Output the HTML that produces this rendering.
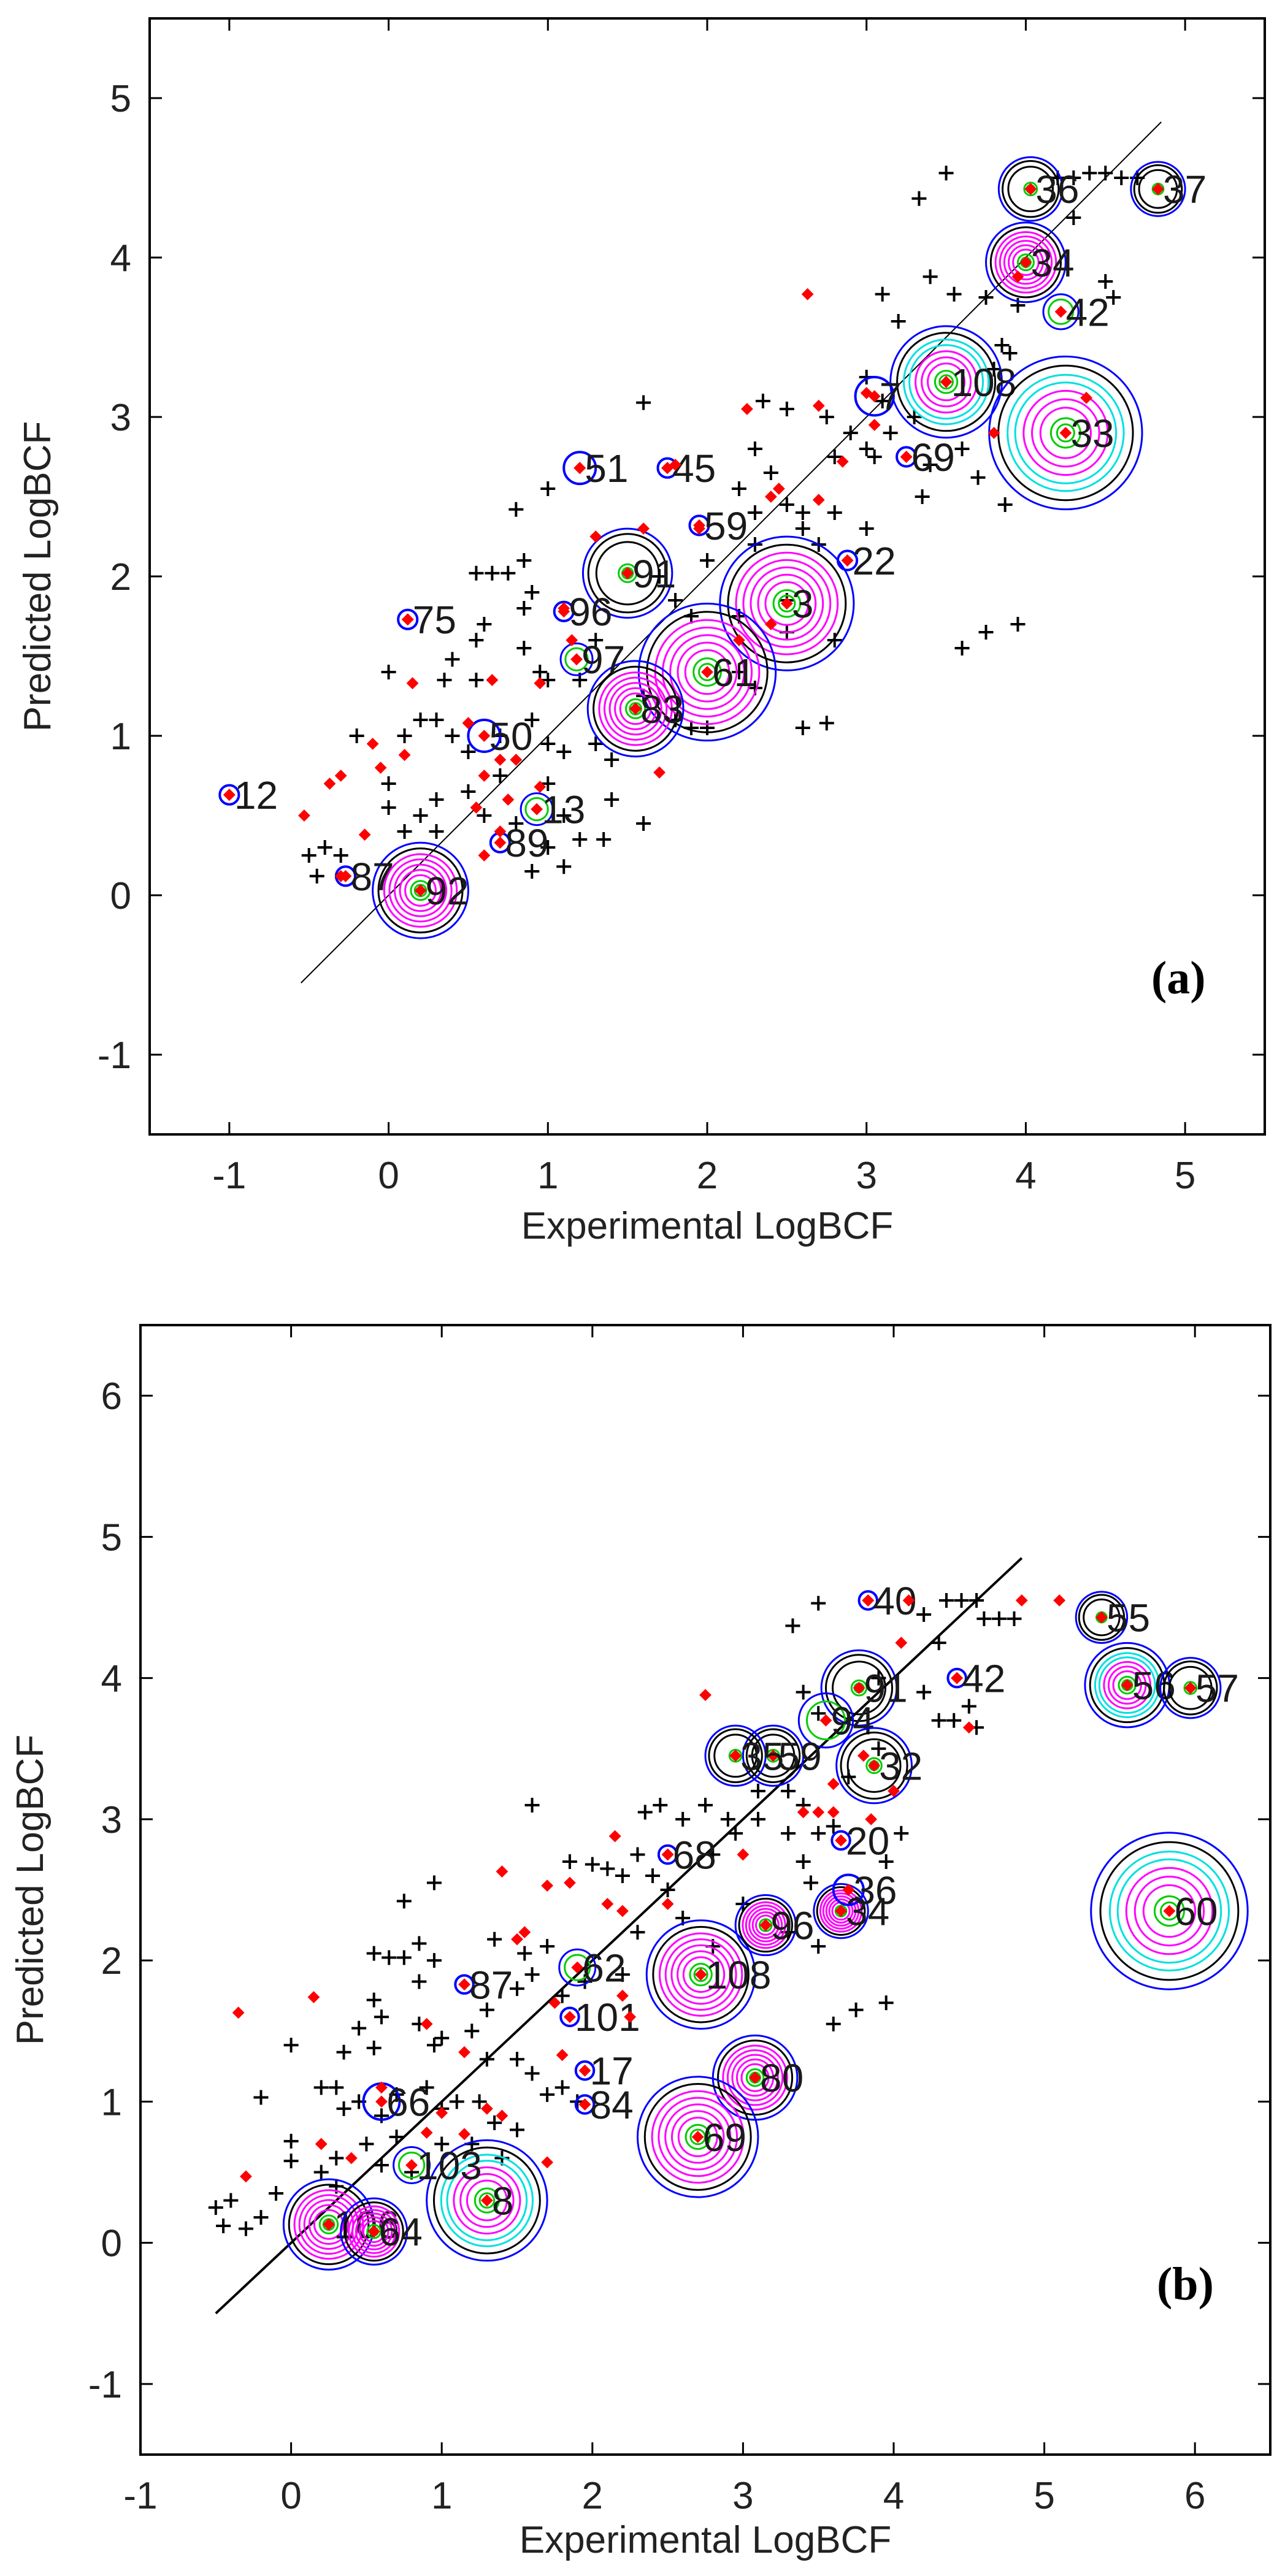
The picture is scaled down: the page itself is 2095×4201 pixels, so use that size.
<!DOCTYPE html>
<html><head><meta charset="utf-8"><style>
html,body{margin:0;padding:0;background:#fff;}
svg{display:block;}
text{font-family:"Liberation Sans",Arial,sans-serif;}
</style></head><body>
<svg id="fig" width="2095" height="4201" viewBox="0 0 2095 4201" xmlns="http://www.w3.org/2000/svg">
<rect x="0" y="0" width="2095" height="4201" fill="#fff"/>
<g id="pa"></g>
<g id="pb"></g>
</svg>
<script>
// ---------- Panel A data ----------
const aXTicks=[-1,0,1,2,3,4,5];
const aYTicks=[-1,0,1,2,3,4,5];
const aCross=[[3.5,4.53],[3.33,4.37],[4.2,4.5],[4.3,4.5],[4.4,4.53],[4.5,4.53],[4.6,4.5],[4.7,4.5],[4.3,4.25],[3.1,3.77],[3.4,3.88],[3.55,3.77],[3.2,3.6],[3.75,3.75],[3.95,3.7],[4.5,3.85],[4.55,3.75],[3.85,3.45],[1.6,3.09],[2.35,3.1],[2.5,3.05],[2.75,3.0],[2.9,2.9],[3.0,2.8],[3.05,2.75],[3.15,2.9],[3.3,3.0],[3.35,2.5],[3.0,3.25],[2.3,2.8],[2.4,2.65],[2.5,2.45],[2.6,2.3],[2.7,2.2],[2.8,2.4],[2.2,2.55],[2.3,2.2],[3.0,2.3],[3.7,2.62],[3.87,2.45],[1.0,2.55],[0.8,2.42],[0.55,2.02],[0.65,2.02],[0.75,2.02],[0.85,2.1],[0.9,1.9],[0.85,1.8],[0.6,1.7],[0.55,1.6],[0.4,1.48],[0.0,1.4],[0.35,1.35],[0.55,1.35],[0.85,1.55],[0.95,1.4],[1.0,1.35],[1.2,1.35],[-0.2,1.0],[0.1,1.0],[0.2,1.1],[0.3,1.1],[0.4,1.0],[0.5,0.9],[0.7,1.0],[0.9,1.1],[1.0,0.95],[1.1,0.9],[1.3,0.95],[1.4,0.85],[1.0,0.7],[0.7,0.75],[0.5,0.65],[0.3,0.6],[0.2,0.5],[0.0,0.55],[0.0,0.7],[0.1,0.4],[0.3,0.4],[0.6,0.5],[0.8,0.45],[1.1,0.5],[1.2,0.35],[1.35,0.35],[1.4,0.6],[1.6,0.45],[0.9,0.15],[1.1,0.18],[1.0,0.3],[-0.5,0.25],[-0.45,0.12],[-0.4,0.3],[-0.3,0.25],[2.2,1.4],[2.3,1.3],[2.5,1.65],[2.5,1.85],[2.8,1.6],[2.6,1.05],[2.75,1.08],[3.6,1.55],[3.75,1.65],[3.95,1.7],[1.8,1.1],[1.9,1.05],[2.0,1.05],[1.6,1.25],[1.8,1.85],[1.9,1.75],[2.2,1.75],[2.3,2.4],[2.6,2.4],[1.7,2.0],[2.0,2.1],[1.3,1.6],[3.4,2.7],[3.6,2.8],[3.8,3.3],[3.9,3.4],[3.1,3.1],[2.8,2.75]];
const aRed=[[2.63,3.77],[2.25,3.05],[2.7,3.07],[3.0,3.15],[3.05,2.95],[3.25,2.75],[2.85,2.72],[2.4,2.5],[2.45,2.55],[2.7,2.48],[1.6,2.3],[1.3,2.25],[1.8,2.7],[1.1,1.8],[1.15,1.6],[0.15,1.33],[0.65,1.35],[0.95,1.33],[-0.1,0.95],[0.1,0.88],[-0.05,0.8],[-0.3,0.75],[-0.37,0.7],[-0.53,0.5],[-0.15,0.38],[0.5,1.08],[0.6,0.75],[0.7,0.85],[0.8,0.85],[0.75,0.6],[0.55,0.55],[0.95,0.68],[0.6,0.25],[0.7,0.4],[1.7,0.77],[2.4,1.7],[2.2,1.6],[3.8,2.9],[4.38,3.12],[3.95,3.88],[-0.3,0.12],[1.2,2.68],[1.75,2.68],[1.95,2.3],[2.88,2.1],[0.12,1.73],[-1.0,0.63]];
const aClX=[4.03,4.83,4.0,4.22,3.5,4.25,2.5,2.0,1.55,1.5,0.2,0.93,1.2,1.75,1.95,2.88,3.25,0.12,-1.0,-0.27,0.6,0.7,3.05,1.18,1.1];
const aClY=[4.43,4.43,3.97,3.66,3.22,2.9,1.83,1.4,1.17,2.02,0.03,0.54,2.68,2.68,2.32,2.1,2.75,1.73,0.63,0.12,1.0,0.33,3.13,1.48,1.78];
const aClR=[0.2,0.17,0.25,0.11,0.35,0.48,0.42,0.43,0.3,0.28,0.3,0.1,0.1,0.06,0.06,0.06,0.06,0.06,0.06,0.06,0.1,0.06,0.12,0.1,0.06];
const aClK=['p','p','m','g','c','c','m','m','m','p','m','g','b','b','b','b','b','b','b','b','b','b','b','g','b'];
const aClL=['36','37','34','42','108','33','3','61','83','91','92','13','51','45','59','22','69','75','12','87','50','89','7','97','96'];

// ---------- Panel B data ----------
const bXTicks=[-1,0,1,2,3,4,5,6];
const bYTicks=[-1,0,1,2,3,4,5,6];
const bCross=[[3.5,4.53],[3.33,4.37],[4.2,4.45],[4.35,4.55],[4.45,4.55],[4.55,4.55],[4.6,4.42],[4.7,4.42],[4.8,4.42],[4.3,4.25],[3.4,3.9],[3.5,3.75],[3.9,4.0],[4.2,3.9],[4.3,3.7],[4.4,3.7],[4.5,3.8],[4.55,3.65],[3.3,3.2],[3.4,3.1],[3.5,2.9],[3.6,2.95],[1.6,3.1],[2.35,3.05],[2.45,3.1],[2.6,3.0],[2.75,3.1],[2.9,3.0],[3.1,3.2],[3.3,2.9],[3.4,2.7],[3.45,2.55],[3.95,2.7],[4.05,2.9],[1.85,2.7],[2.0,2.68],[2.1,2.65],[2.2,2.6],[2.3,2.75],[2.4,2.6],[2.5,2.5],[0.95,2.55],[0.75,2.42],[0.85,2.12],[0.95,2.0],[0.55,2.05],[0.65,2.02],[0.75,2.02],[0.85,1.85],[0.55,1.72],[0.6,1.6],[0.45,1.52],[0.0,1.4],[0.35,1.35],[0.55,1.38],[0.85,1.55],[0.95,1.4],[1.0,1.45],[1.2,1.5],[1.3,1.3],[1.5,1.3],[1.6,1.2],[1.7,1.05],[1.5,1.8],[1.6,1.9],[1.7,2.1],[1.8,1.75],[1.95,1.85],[1.35,2.15],[1.55,2.05],[1.3,1.65],[-0.2,1.03],[0.2,1.1],[0.3,1.1],[0.35,0.95],[0.45,1.0],[0.6,0.9],[0.7,1.05],[0.9,1.1],[1.0,0.95],[1.1,1.0],[1.25,1.0],[1.35,0.85],[1.5,0.8],[1.0,0.7],[0.7,0.75],[0.5,0.7],[0.3,0.6],[0.2,0.5],[0.0,0.58],[0.0,0.72],[-0.1,0.35],[0.3,0.4],[0.6,0.55],[0.8,0.5],[1.2,0.7],[1.4,0.6],[-0.5,0.25],[-0.45,0.12],[-0.4,0.3],[-0.3,0.1],[-0.2,0.18],[2.6,2.3],[2.8,2.1],[3.0,2.4],[3.3,2.2],[3.5,2.1],[3.6,1.55],[3.75,1.65],[3.95,1.7],[1.8,1.1],[1.9,1.0],[2.2,1.9],[2.3,2.2],[3.9,3.5],[3.7,3.3],[3.1,3.0],[2.8,2.75],[2.95,2.9]];
const bRed=[[-0.35,1.63],[-0.3,0.47],[0.15,1.74],[0.2,0.7],[0.4,0.6],[0.6,1.1],[0.9,0.78],[0.9,1.55],[1.0,0.92],[1.15,0.77],[1.15,1.35],[1.3,0.95],[1.4,0.9],[1.4,2.63],[1.55,2.2],[1.5,2.15],[1.7,2.53],[1.85,2.55],[1.75,1.7],[1.8,1.33],[1.7,0.57],[2.15,2.88],[2.1,2.4],[2.25,1.6],[2.2,1.75],[2.75,3.88],[2.5,2.75],[3.0,2.75],[3.4,3.05],[3.5,3.05],[3.6,3.05],[3.85,3.0],[4.0,3.2],[4.05,4.25],[4.1,4.55],[4.85,4.55],[5.1,4.55],[4.5,3.65],[3.8,3.45],[3.6,3.25],[3.83,4.55],[4.42,4.0],[2.5,2.4],[2.2,2.35]];
const bClX=[5.38,5.55,5.97,5.83,3.77,3.55,3.87,3.2,2.95,2.72,3.15,3.65,3.08,2.7,1.3,0.25,0.55,0.6,1.9,1.85,1.15,1.95,1.95,4.42,3.83,3.65,2.5,0.8,3.7];
const bClY=[4.43,3.95,3.93,2.35,3.93,3.7,3.38,3.45,3.45,1.9,2.25,2.35,1.17,0.75,0.3,0.13,0.08,1.0,1.95,1.6,1.83,1.22,0.98,4.0,4.55,2.85,2.75,0.55,2.5];
const bClR=[0.17,0.28,0.2,0.52,0.25,0.18,0.25,0.2,0.2,0.36,0.2,0.18,0.28,0.4,0.4,0.3,0.22,0.12,0.12,0.06,0.06,0.06,0.06,0.06,0.06,0.06,0.06,0.12,0.1];
const bClK=['p','c','p','c','p','g','p','p','p','m','m','m','m','m','c','m','m','b','g','b','b','b','b','b','b','b','b','g','b'];
const bClL=['55','56','57','60','91','94','32','59','35','108','96','34','80','69','8','106','64','66','62','101','87','17','84','42','40','20','68','103','36'];

function mk(parent,tag,attrs,name,inter){
  const e=document.createElementNS('http://www.w3.org/2000/svg',tag);
  for(const k in attrs)e.setAttribute(k,attrs[k]);
  
  
  parent.appendChild(e);return e;
}

function panel(g,cfg){
  const sx=v=>cfg.L+(v-cfg.xmin)/(cfg.xmax-cfg.xmin)*(cfg.R-cfg.L);
  const sy=v=>cfg.B-(v-cfg.ymin)/(cfg.ymax-cfg.ymin)*(cfg.B-cfg.T);
  const ppu=(cfg.R-cfg.L)/(cfg.xmax-cfg.xmin);
  mk(g,'line',{x1:sx(cfg.d0),y1:sy(cfg.d0),x2:sx(cfg.d1),y2:sy(cfg.d1),stroke:'#000','stroke-width':cfg.dw},'identity-line',false);
  cfg.cross.forEach(p=>{
    const x=sx(p[0]),y=sy(p[1]);
    mk(g,'path',{d:`M${x-12} ${y}H${x+12}M${x} ${y-12}V${y+12}`,stroke:'#000','stroke-width':4,fill:'none'},'training-point',false);
  });
  const n=cfg.cx.length;
  for(let i=0;i<n;i++){
    const x=sx(cfg.cx[i]),y=sy(cfg.cy[i]),r=cfg.cr[i]*ppu,k=cfg.ck[i];
    const cg=mk(g,'g',{},'outlier-cluster-'+cfg.cl[i],false);
    const ring=(rr,c,w)=>{ if(rr>2) mk(cg,'circle',{cx:x,cy:y,r:rr,fill:'none',stroke:c,'stroke-width':w||3},'contour-ring',false);};
    if(k==='b'){ring(Math.max(r,14),'#0000ff',4);}
    else if(k==='g'){ring(r,'#0000ff',3);ring(r*0.7,'#00cc00',3);}
    else{
      ring(r,'#0000ff',3);ring(r*0.88,'#000',3);
      let inner=0.76;
      if(k==='c'){ring(r*0.76,'#00e0e0',3);ring(r*0.66,'#00e0e0',3);inner=0.55;}
      if(k==='m'||k==='c'){for(let f=inner;f>0.25;f-=0.11)ring(r*f,'#ff00ff',3);}
      else{ring(r*0.7,'#000',3);}
      ring(Math.min(r*0.2,24),'#00cc00',3);ring(Math.min(r*0.12,14),'#00cc00',3);
    }
    mk(cg,'rect',{x:x-7,y:y-7,width:14,height:14,fill:'#ff0000',transform:`rotate(45 ${x} ${y})`},'cluster-center',false);
    const t=mk(cg,'text',{x:x+8,y:y+23,'font-size':64,fill:'#1a1a1a'},'point-label',false);
    t.textContent=cfg.cl[i];
  }
  cfg.red.forEach(p=>{
    const x=sx(p[0]),y=sy(p[1]);
    mk(g,'rect',{x:x-7,y:y-7,width:14,height:14,fill:'#ff0000',transform:`rotate(45 ${x} ${y})`},'test-point',false);
  });
  mk(g,'rect',{x:cfg.L,y:cfg.T,width:cfg.R-cfg.L,height:cfg.B-cfg.T,fill:'none',stroke:'#000','stroke-width':4},'plot-frame',false);
  cfg.xt.forEach(v=>{
    const x=sx(v);
    mk(g,'path',{d:`M${x} ${cfg.B}V${cfg.B-20}M${x} ${cfg.T}V${cfg.T+20}`,stroke:'#000','stroke-width':3},'x-tick',false);
    const t=mk(g,'text',{x:x,y:cfg.B+88,'font-size':62,'text-anchor':'middle',fill:'#222'},'x-tick-label',false);
    t.textContent=String(v);
  });
  cfg.yt.forEach(v=>{
    const y=sy(v);
    mk(g,'path',{d:`M${cfg.L} ${y}H${cfg.L+20}M${cfg.R} ${y}H${cfg.R-20}`,stroke:'#000','stroke-width':3},'y-tick',false);
    const t=mk(g,'text',{x:cfg.L-30,y:y+22,'font-size':62,'text-anchor':'end',fill:'#222'},'y-tick-label',false);
    t.textContent=String(v);
  });
  const xt=mk(g,'text',{x:(cfg.L+cfg.R)/2,y:cfg.B+cfg.xtY,'font-size':62,'text-anchor':'middle',fill:'#222'},'x-axis-title',false);
  xt.textContent='Experimental LogBCF';
  const yc=(cfg.T+cfg.B)/2;
  const yt=mk(g,'text',{x:cfg.ytx,y:yc,'font-size':62,'text-anchor':'middle',fill:'#222',transform:`rotate(-90 ${cfg.ytx} ${yc})`},'y-axis-title',false);
  yt.textContent='Predicted LogBCF';
  const pl=mk(g,'text',{x:cfg.R-185,y:cfg.plY,'font-size':76,'font-weight':'bold',fill:'#000',style:'font-family:"Liberation Serif",serif'},'panel-label',false);
  pl.textContent=cfg.label;
}

panel(document.getElementById('pa'),{L:244,R:2062,T:30,B:1850,xmin:-1.5,xmax:5.5,ymin:-1.5,ymax:5.5,
  d0:-0.55,d1:4.85,dw:2,cross:aCross,red:aRed,cx:aClX,cy:aClY,cr:aClR,ck:aClK,cl:aClL,xt:aXTicks,yt:aYTicks,ytx:82,plY:1620,xtY:170,label:'(a)'});
panel(document.getElementById('pb'),{L:229,R:2071,T:2161,B:4003,xmin:-1,xmax:6.5,ymin:-1.5,ymax:6.5,
  d0:-0.5,d1:4.85,dw:4,cross:bCross,red:bRed,cx:bClX,cy:bClY,cr:bClR,ck:bClK,cl:bClL,xt:bXTicks,yt:bYTicks,ytx:70,plY:3750,xtY:160,label:'(b)'});
</script>
</body></html>
